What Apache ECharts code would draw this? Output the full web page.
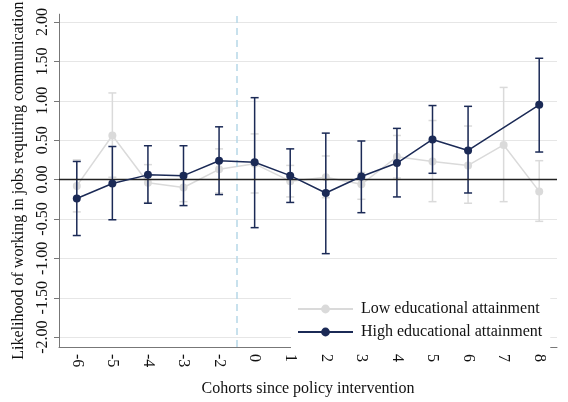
<!DOCTYPE html>
<html>
<head>
<meta charset="utf-8">
<script src="https://cdn.jsdelivr.net/npm/echarts@6/dist/echarts.min.js"></script>
<style>
  html, body { margin: 0; padding: 0; background: #fff; }
  #chart { width: 568px; height: 402px; }
</style>
</head>
<body>
<div id="chart"></div>
<script>
// Cohorts relative to the policy intervention (no cohort -1)
const cohorts = ['-6', '-5', '-4', '-3', '-2', '0', '1', '2', '3', '4', '5', '6', '7', '8'];

// Low educational attainment: point estimates and 95% CI bounds
const lowEst = [-0.08, 0.56, -0.04, -0.10, 0.13, 0.20, -0.02, 0.03, -0.06, 0.29, 0.23, 0.18, 0.44, -0.15];
const lowLo  = [-0.41, 0.03, -0.29, -0.28, -0.17, -0.17, -0.22, -0.23, -0.25, 0.02, -0.28, -0.30, -0.28, -0.53];
const lowHi  = [0.25, 1.10, 0.19, 0.08, 0.39, 0.58, 0.18, 0.30, 0.09, 0.56, 0.75, 0.68, 1.17, 0.24];

// High educational attainment (no estimate for cohort 7)
const highEst = [-0.24, -0.05, 0.06, 0.05, 0.24, 0.22, 0.05, -0.17, 0.04, 0.21, 0.51, 0.37, null, 0.95];
const highLo  = [-0.71, -0.51, -0.30, -0.33, -0.19, -0.61, -0.29, -0.94, -0.42, -0.22, 0.08, -0.17, null, 0.35];
const highHi  = [0.23, 0.42, 0.43, 0.43, 0.67, 1.04, 0.39, 0.59, 0.49, 0.65, 0.94, 0.93, null, 1.54];

const seriesNames = ['Low educational attainment', 'High educational attainment'];

// Policy intervention sits between the last pre-cohort and cohort 0
const interventionPos = cohorts.indexOf('0') - 0.5;

const FONT = '"Liberation Serif", "Times New Roman", serif';
const NAVY = '#1b2a56';
const LIGHT = '#dadada';
const AXIS_GREY = '#777777';
const FS = 16;

function errorBars(name, lo, hi, color, z) {
  const data = [];
  cohorts.forEach((c, i) => {
    if (lo[i] != null && hi[i] != null) data.push([i, lo[i], hi[i]]);
  });
  return {
    type: 'custom',
    name: name,
    z: z,
    silent: true,
    data: data,
    encode: { x: 0, y: [1, 2] },
    renderItem: function (params, api) {
      const i = api.value(0);
      const pLo = api.coord([i, api.value(1)]);
      const pHi = api.coord([i, api.value(2)]);
      const hw = 4;
      const st = { stroke: color, lineWidth: 1.5 };
      return {
        type: 'group',
        children: [
          { type: 'line', shape: { x1: pLo[0], y1: pLo[1], x2: pHi[0], y2: pHi[1] }, style: st },
          { type: 'line', shape: { x1: pLo[0] - hw, y1: pLo[1], x2: pLo[0] + hw, y2: pLo[1] }, style: st },
          { type: 'line', shape: { x1: pHi[0] - hw, y1: pHi[1], x2: pHi[0] + hw, y2: pHi[1] }, style: st }
        ]
      };
    }
  };
}

const chart = echarts.init(document.getElementById('chart'), null, { renderer: 'canvas' });

chart.setOption({
  animation: false,
  backgroundColor: '#ffffff',
  textStyle: { fontFamily: FONT },
  grid: { left: 59, right: 11, top: 12, bottom: 52, containLabel: false },
  xAxis: [
    {
      type: 'category',
      data: cohorts,
      boundaryGap: true,
      name: 'Cohorts since policy intervention',
      nameLocation: 'middle',
      nameGap: 34,
      nameTextStyle: { fontFamily: FONT, fontSize: FS, color: '#111' },
      axisLine: { onZero: false, lineStyle: { color: AXIS_GREY, width: 1 } },
      axisTick: { alignWithLabel: true, length: 5, lineStyle: { color: AXIS_GREY } },
      axisLabel: { rotate: -90, margin: 7, fontFamily: FONT, fontSize: FS, color: '#111' },
      splitLine: { show: false }
    },
    {
      // index-based helper axis for the intervention marker
      type: 'value',
      show: false,
      min: -0.5,
      max: cohorts.length - 0.5
    }
  ],
  yAxis: {
    type: 'value',
    min: -2.125,
    max: 2.1,
    splitNumber: 8,
    name: 'Likelihood of working in jobs requiring communication',
    nameLocation: 'middle',
    nameGap: 31,
    nameTextStyle: { fontFamily: FONT, fontSize: FS, color: '#111' },
    axisLine: { show: true, onZero: false, lineStyle: { color: AXIS_GREY, width: 1 } },
    axisTick: { show: true, length: 5, lineStyle: { color: AXIS_GREY } },
    axisLabel: {
      rotate: 90, margin: 8, fontFamily: FONT, fontSize: FS, color: '#111',
      showMinLabel: false, showMaxLabel: false,
      formatter: v => v.toFixed(2)
    },
    splitLine: { show: true, showMinLine: false, showMaxLine: false, lineStyle: { color: '#e6e6e6', width: 1 } }
  },
  legend: {
    data: seriesNames,
    orient: 'vertical',
    left: 291,
    top: 294,
    padding: [7, 8, 8, 6],
    backgroundColor: '#ffffff',
    itemWidth: 55,
    itemHeight: 11,
    itemGap: 7,
    textStyle: { fontFamily: FONT, fontSize: FS, color: '#111', padding: [0, 0, 0, 3] }
  },
  series: [
    {
      // reference lines: intervention (dashed) and zero
      type: 'line',
      name: 'ref',
      xAxisIndex: 1,
      data: [],
      z: 1,
      silent: true,
      markLine: {
        silent: true,
        symbol: 'none',
        label: { show: false },
        data: [
          { xAxis: interventionPos, lineStyle: { color: '#b6d8e8', type: [7, 5], width: 1.5 } },
          { yAxis: 0, lineStyle: { color: '#222222', type: 'solid', width: 1.3 } }
        ]
      }
    },
    errorBars('Low CI', lowLo, lowHi, LIGHT, 2),
    {
      type: 'line',
      name: seriesNames[0],
      data: lowEst,
      z: 3,
      symbol: 'circle',
      symbolSize: 8,
      showAllSymbol: true,
      lineStyle: { color: LIGHT, width: 1.5 },
      itemStyle: { color: LIGHT }
    },
    errorBars('High CI', highLo, highHi, NAVY, 4),
    {
      type: 'line',
      name: seriesNames[1],
      data: highEst,
      z: 5,
      connectNulls: true,
      symbol: 'circle',
      symbolSize: 8,
      showAllSymbol: true,
      lineStyle: { color: NAVY, width: 1.5 },
      itemStyle: { color: NAVY }
    }
  ]
});
</script>
</body>
</html>
